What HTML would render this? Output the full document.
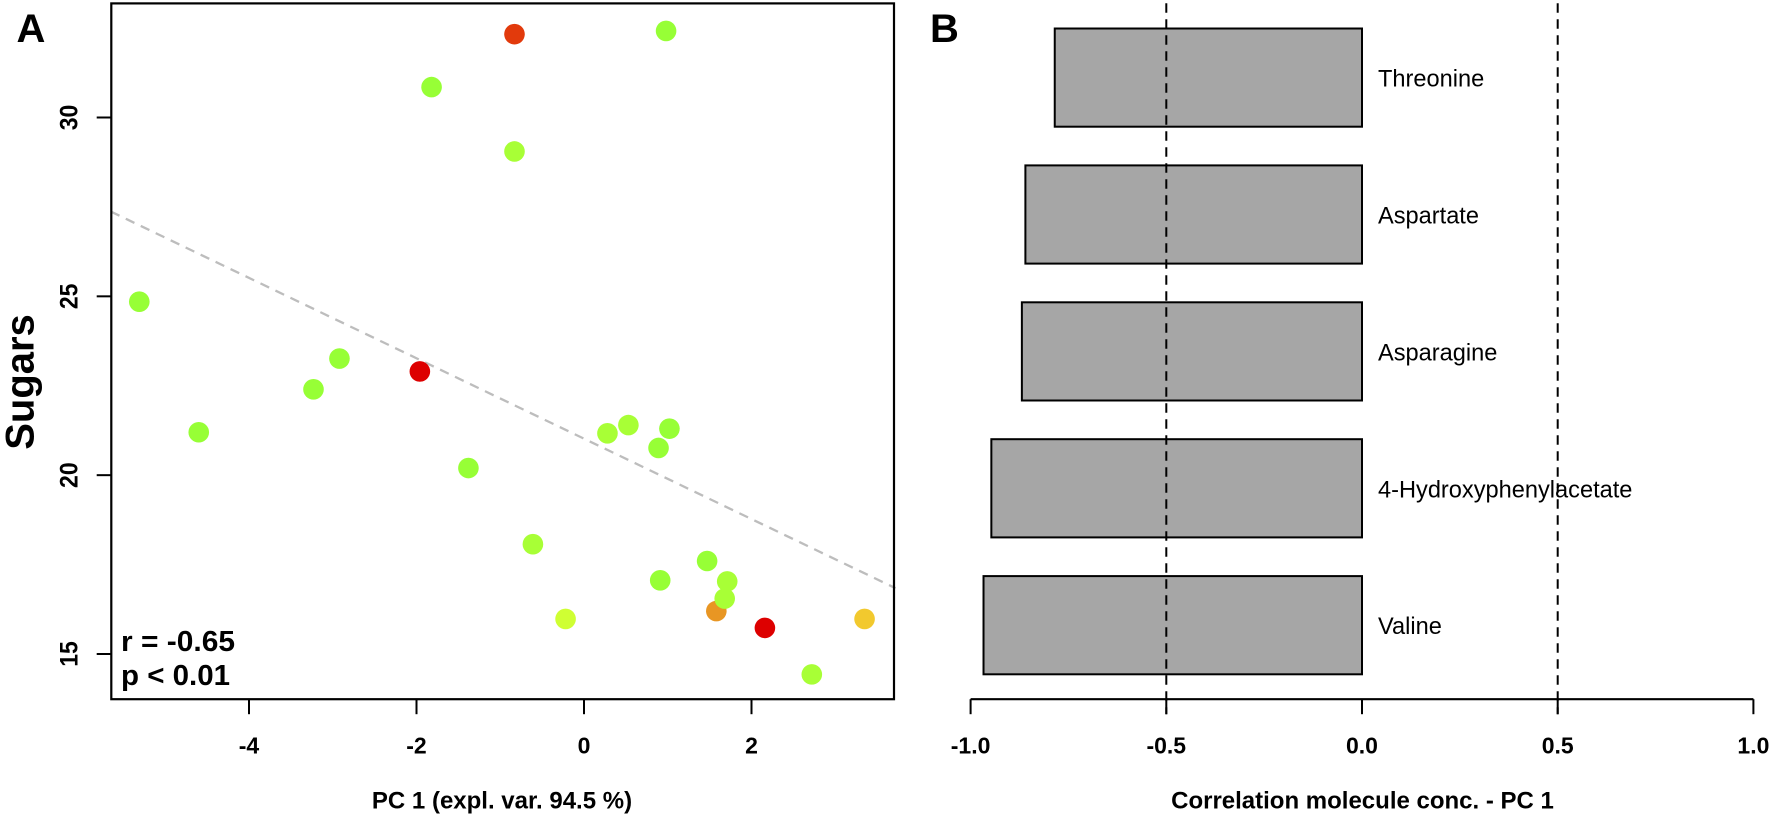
<!DOCTYPE html>
<html lang="en">
<head>
<meta charset="utf-8">
<title>Sugars vs PC 1 and molecule correlations</title>
<style>
html,body{margin:0;padding:0;background:#fff;width:1772px;height:818px;overflow:hidden}
svg{display:block}
text{font-family:"Liberation Sans",sans-serif;fill:#000}
.b{font-weight:bold}
</style>
</head>
<body>
<svg id="fig" xmlns="http://www.w3.org/2000/svg" width="1772" height="818" viewBox="0 0 1772 818">
  <rect x="0" y="0" width="1772" height="818" fill="#fff"/>
  <g id="panelA"></g>
  <g id="panelB"></g>
  <text class="b" x="16.5" y="42" font-size="40">A</text>
  <text class="b" x="930" y="42" font-size="40">B</text>
  <text class="b" font-size="40" text-anchor="middle" transform="translate(33.5,382) rotate(-90)">Sugars</text>
  <text class="b" font-size="24" text-anchor="middle" x="502" y="808.5">PC 1 (expl. var. 94.5 %)</text>
  <text class="b" font-size="24" text-anchor="middle" x="1362.5" y="808.5">Correlation molecule conc. - PC 1</text>
  <text class="b" font-size="29" x="121" y="651" textLength="114" lengthAdjust="spacingAndGlyphs">r = -0.65</text>
  <text class="b" font-size="29" x="121" y="685" textLength="109" lengthAdjust="spacingAndGlyphs">p &lt; 0.01</text>
</svg>
<script>
// Panel A data
const pcScores = [-0.83, 0.98, -1.82, -0.83, -5.31, -2.92, -3.23, -1.96, -4.6, 0.28, 0.53, 1.02, 0.89, -1.38, -0.61, 1.47, 0.91, 1.58, 1.71, 1.68, -0.22, 2.16, 3.35, 2.72];
const sugarValues = [32.33, 32.42, 30.85, 29.05, 24.85, 23.26, 22.4, 22.9, 21.2, 21.17, 21.4, 21.3, 20.76, 20.2, 18.07, 17.6, 17.06, 16.2, 17.03, 16.55, 15.98, 15.73, 15.98, 14.43];
const pointLevels = [6, 0, 0, 1, 0, 0, 0, 7, 0, 1, 1, 0, 0, 0, 1, 0, 0, 4, 1, 1, 2, 7, 3, 1];
const pcTicks = [-4, -2, 0, 2];
const sugarTicks = [15, 20, 25, 30];
const trendPc = [-5.65, 3.72];
const trendSugars = [27.37, 16.84];
// Panel B data
const molecules = ["Threonine", "Aspartate", "Asparagine", "4-Hydroxyphenylacetate", "Valine"];
const correlations = [-0.785, -0.86, -0.869, -0.947, -0.967];
const corrTicks = [-1.0, -0.5, 0.0, 0.5, 1.0];
const corrThresholds = [-0.5, 0.5];

const NS = 'http://www.w3.org/2000/svg';
function mk(parent, tag, attrs, txt) {
  const el = document.createElementNS(NS, tag);
  for (const k in attrs) el.setAttribute(k, attrs[k]);
  if (txt !== undefined) el.textContent = txt;
  parent.appendChild(el);
  return el;
}
function linear(d0, d1, r0, r1) {
  return function (v) { return r0 + (v - d0) * (r1 - r0) / (d1 - d0); };
}
function levelColor(level) {
  const stops = {0:'#97FF36',1:'#A8FF36',2:'#CFFF33',3:'#F2C92E',4:'#E89623',6:'#E23A0C',7:'#DD0000'};
  return stops[level];
}

const A = document.getElementById('panelA');
const B = document.getElementById('panelB');
const boxA = {l:111.3, r:894, t:3.4, b:699.2};
const xA = linear(-4, 2, 249, 751.5);
const yA = linear(15, 30, 654, 117.5);
const xB = linear(-1, 1, 970.6, 1753.4);
const axisY = 699.2, tickLen = 15;

// Trend line
const trend = mk(A, 'line', {x1:xA(trendPc[0]), y1:yA(trendSugars[0]), x2:xA(trendPc[1]), y2:yA(trendSugars[1]), stroke:'#BDBDBD', 'stroke-width':2.3, 'stroke-dasharray':'9.6 7'});



// Points
pcScores.forEach(function (v, i) {
  const c = mk(A, 'circle', {cx:xA(v), cy:yA(sugarValues[i]), r:10.3, fill:levelColor(pointLevels[i])});
  
  
});

// Box
const box = mk(A, 'rect', {x:boxA.l, y:boxA.t, width:boxA.r-boxA.l, height:boxA.b-boxA.t, fill:'none', stroke:'#000', 'stroke-width':2.2});



// X ticks A
pcTicks.forEach(function (t) {
  const l = mk(A, 'line', {x1:xA(t), x2:xA(t), y1:axisY, y2:axisY+tickLen, stroke:'#000', 'stroke-width':2});
  
  
  const s = mk(A, 'text', {x:xA(t), y:753.5, 'text-anchor':'middle', 'font-size':23, class:'b'}, String(t));
  
  
});

// Y ticks A
sugarTicks.forEach(function (t) {
  const y = yA(t);
  const l = mk(A, 'line', {x1:boxA.l-14.6, x2:boxA.l, y1:y, y2:y, stroke:'#000', 'stroke-width':2});
  
  
  const s = mk(A, 'text', {'text-anchor':'middle', 'font-size':23, class:'b', transform:'translate(77.7,' + y + ') rotate(-90) scale(1,1.07)'}, String(t));
  
  
});

// Bars
const barTop = 28.5, barStep = 136.9, barH = 98.2, zeroX = xB(0);
molecules.forEach(function (name, i) {
  const y = barTop + i * barStep;
  const x = xB(correlations[i]);
  const r = mk(B, 'rect', {x:x, y:y, width:zeroX-x, height:barH, fill:'#A6A6A6', stroke:'#000', 'stroke-width':2});
  
  
  const s = mk(B, 'text', {x:zeroX+16, y:y+barH/2+9, 'font-size':23.6}, name);
  
  
});

// Threshold lines
corrThresholds.forEach(function (t) {
  const l = mk(B, 'line', {x1:xB(t), x2:xB(t), y1:3.3, y2:axisY+tickLen, stroke:'#000', 'stroke-width':2, 'stroke-dasharray':'9.5 6.5'});
  
  
});

// Axis B
const axisB = mk(B, 'line', {x1:xB(corrTicks[0]), x2:xB(corrTicks[corrTicks.length-1]), y1:axisY, y2:axisY, stroke:'#000', 'stroke-width':2.2});


corrTicks.forEach(function (t) {
  const l = mk(B, 'line', {x1:xB(t), x2:xB(t), y1:axisY, y2:axisY+tickLen, stroke:'#000', 'stroke-width':2});
  
  
  const s = mk(B, 'text', {x:xB(t), y:753.5, 'text-anchor':'middle', 'font-size':23, class:'b'}, t.toFixed(1));
  
  
});
</script>
</body>
</html>
